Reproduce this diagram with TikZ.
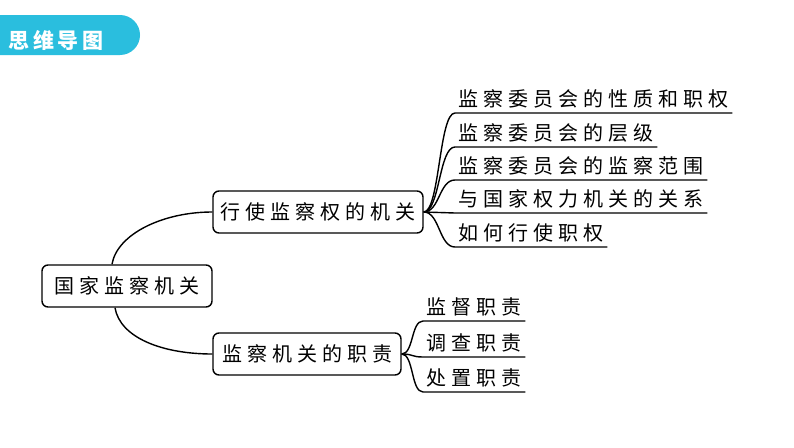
\documentclass[tikz,border=0pt]{standalone}
\usepackage{fontspec}
\newfontfamily\cjk{Noto Sans CJK SC}[LetterSpace=25]
\newfontfamily\cjktitle{Noto Sans CJK SC}[LetterSpace=18]
\usetikzlibrary{calc}
\definecolor{bannerblue}{RGB}{42,190,222}
\begin{document}
\begin{tikzpicture}[x=1pt,y=-1pt,line width=1.4pt]
\tikzstyle{box}=[draw,rounded corners=6pt,minimum height=42pt,inner xsep=0pt,font=\cjk\fontsize{20}{20}\selectfont]
\tikzstyle{leaf}=[anchor=south west,inner xsep=3pt,inner ysep=4pt,font=\cjk\fontsize{20}{20}\selectfont]
\useasboundingbox[fill=white] (0,0) rectangle (794,447);
% banner
\fill[bannerblue] (0,15) -- (120,15) arc (-90:90:20) -- (0,55) -- cycle;
\node[text=white,font=\cjktitle\bfseries\fontsize{21}{21}\selectfont] (title) at (56,40) {思维导图};
% main boxes
\node[box,minimum width=170pt] (a) at (127,286) {国家监察机关};
\node[box,minimum width=210pt] (b) at (318,212) {行使监察权的机关};
\node[box,minimum width=188pt] (c) at (307,354) {监察机关的职责};
% leaves
\node[leaf] (b1) at (455,113) {监察委员会的性质和职权};
\node[leaf] (b2) at (455,147) {监察委员会的层级};
\node[leaf] (b3) at (455,180) {监察委员会的监察范围};
\node[leaf] (b4) at (455,213) {与国家权力机关的关系};
\node[leaf] (b5) at (455,247) {如何行使职权};
\node[leaf] (c1) at (423,321) {监督职责};
\node[leaf] (c2) at (423,357) {调查职责};
\node[leaf] (c3) at (423,392) {处置职责};
% connectors
\draw ($(a.north)+(-15,0)$) .. controls +(5,-30) and +(-50,0) .. (b.west);
\draw ($(a.south)+(-12,0)$) .. controls +(5,30) and +(-50,0) .. (c.west);
\foreach \n in {b1,b2,b3,b4,b5}
  \draw (b.east) .. controls +(16,0) and +(-16,0) .. (\n.south west) -- (\n.south east);
\foreach \n in {c1,c2,c3}
  \draw (c.east) .. controls +(12,0) and +(-12,0) .. (\n.south west) -- (\n.south east);
\end{tikzpicture}
\end{document}
